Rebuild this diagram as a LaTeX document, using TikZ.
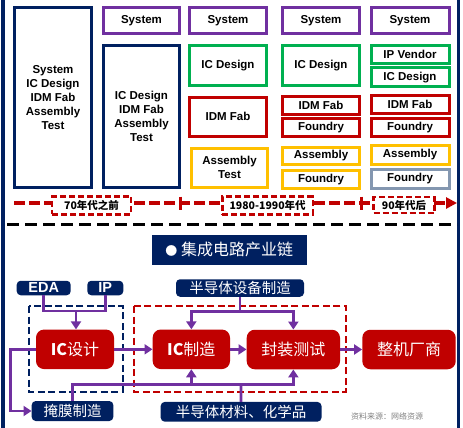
\documentclass[tikz,border=0pt]{standalone}
\usepackage{fontspec}
\setmainfont{Liberation Sans}
\newfontfamily\cjk{Noto Sans CJK SC}
\usepackage{xcolor}
\usetikzlibrary{
  positioning,
  arrows.meta
}
\definecolor{navy}{HTML}{002060}
\definecolor{chipred}{HTML}{C00000}
\definecolor{purp}{HTML}{7030A0}
\definecolor{grn}{HTML}{00B050}
\definecolor{ylw}{HTML}{FFC000}
\definecolor{gry}{HTML}{8497B0}

\begin{document}
\begin{tikzpicture}[x=1pt,y=-1pt,>={Triangle[width=10pt,length=8pt]},
  era/.style={draw, line width=3pt, fill=white, inner sep=0pt, align=center,
    font=\bfseries\fontsize{11.5}{14}\selectfont},
  eratag/.style={draw=chipred, line width=2.75pt, dash pattern=on 6pt off 3pt, fill=white,
    inner sep=0pt, font=\cjk\bfseries\fontsize{10.5}{12}\selectfont},
  tag/.style={fill=navy, text=white, rounded corners=4pt, inner sep=0pt,
    font=\cjk\fontsize{14.5}{14.5}\selectfont},
  stage/.style={fill=chipred, text=white, rounded corners=8pt, inner sep=0pt,
    minimum height=39.5, font=\cjk\fontsize{16}{16}\selectfont},
  flow/.style={purp, line width=2.75pt}]
    \useasboundingbox (0,0) rectangle (463,428);
    % frame
    \draw[navy, line width=3.5pt] (3,0) -- (3,428);
    \draw[navy, line width=3pt] (458.7,0) -- (458.7,428);
    % before the 70s
    \node[era, draw=navy, minimum width=77, minimum height=180] (allone) at (53,97.5) {System\\IC Design\\IDM Fab\\Assembly\\Test};
    % 70s
    \node[era, draw=purp, minimum width=76, minimum height=26] (sysb) at (141.5,20.5) {System};
    \node[era, draw=navy, minimum width=76, minimum height=142] (idmb) at (141.5,116.5) {IC Design\\IDM Fab\\Assembly\\Test};
    % 80s
    \node[era, draw=purp, minimum width=77, minimum height=26] (sysc) at (228,20.5) {System};
    \node[era, draw=grn, minimum width=77, minimum height=39.5] (icdc) at (228,65.5) {IC Design};
    \node[era, draw=chipred, minimum width=77, minimum height=39.5] (fabc) at (228,116.75) {IDM Fab};
    \node[era, draw=ylw, minimum width=76, minimum height=39.5] (asmc) at (229.5,167.75) {Assembly\\Test};
    % 1980-1990
    \node[era, draw=purp, minimum width=77, minimum height=26] (sysd) at (321,20.5) {System};
    \node[era, draw=grn, minimum width=77, minimum height=40] (icdd) at (321,65.5) {IC Design};
    \node[era, draw=chipred, minimum width=77, minimum height=17.5] (fabd) at (321,105.25) {IDM Fab};
    \node[era, draw=chipred, minimum width=77, minimum height=18] (fdyd) at (321,127.5) {Foundry};
    \node[era, draw=ylw, minimum width=77, minimum height=17.5] (asmd) at (321,155.75) {Assembly};
    \node[era, draw=ylw, minimum width=77, minimum height=18] (tstd) at (321,179.5) {Foundry};
    % after the 90s
    \node[era, draw=purp, minimum width=78, minimum height=26] (syse) at (410,20.5) {System};
    \node[era, draw=grn, minimum width=78, minimum height=18.5] (ipve) at (410,54.75) {IP Vendor};
    \node[era, draw=grn, minimum width=78, minimum height=18.5] (icde) at (410,77.25) {IC Design};
    \node[era, draw=chipred, minimum width=78, minimum height=18] (fabe) at (410,104.5) {IDM Fab};
    \node[era, draw=chipred, minimum width=78, minimum height=18.5] (fdye) at (410,127.25) {Foundry};
    \node[era, draw=ylw, minimum width=78, minimum height=19] (asme) at (410,155) {Assembly};
    \node[era, draw=gry, minimum width=78, minimum height=18.5] (tste) at (410,178.75) {Foundry};
    % time axis
    \coordinate (tstart) at (14,203);
    \coordinate (tend) at (457,203);
    \draw[chipred, line width=3.5pt, dash pattern=on 11pt off 4pt, ->, >={Triangle[width=11pt,length=11pt]}] (tstart) -- (tend);
    \draw[chipred, line width=3pt] (180,196.5) -- (180,209.5);
    \draw[chipred, line width=3pt] (361.7,196.5) -- (361.7,209.5);
    \node[eratag, minimum width=78.8, minimum height=18] (tsa) at (91.5,205.4) {70年代之前};
    \node[eratag, minimum width=90.5, minimum height=18] (tsb) at (267.65,205.5) {1980-1990年代};
    \node[eratag, minimum width=60.6, minimum height=15.8] (tsc) at (404,205) {90年代后};
    \draw[black, line width=3pt, dash pattern=on 11.5pt off 6.5pt] (7,224.3) -- (457,224.3);
    % industry chain
    \node[fill=navy, text=white, minimum width=154.5, minimum height=29.5, inner sep=0pt,
      font=\cjk\fontsize{16}{16}\selectfont] (chain) at (229.25,249.75) {{\fontsize{12}{12}\selectfont●} 集成电路产业链};
    \draw[navy, line width=2.25pt, dash pattern=on 7pt off 3.5pt] (29,306) rectangle (122.7,391.7);
    \draw[chipred, line width=2.25pt, dash pattern=on 7pt off 3.5pt] (134,306) rectangle (345.7,391.7);
    \node[tag, minimum width=54, minimum height=14.5, font=\bfseries\fontsize{14.5}{14.5}\selectfont] (eda) at (43.7,288) {EDA};
    \node[tag, minimum width=36, minimum height=14.5, font=\bfseries\fontsize{14.5}{14.5}\selectfont] (ip) at (105.3,288) {IP};
    \node[tag, minimum width=128, minimum height=17.5] (equip) at (240,288) {半导体设备制造};
    \node[tag, minimum width=81.6, minimum height=20] (mask) at (72.5,411) {掩膜制造};
    \node[tag, minimum width=160.8, minimum height=19.7] (mater) at (241.1,411.8) {半导体材料、化学品};
    \node[stage, minimum width=78] (icd) at (75,349.3) {{\bfseries IC}设计};
    \node[stage, minimum width=77.3] (icm) at (191.35,349.3) {{\bfseries IC}制造};
    \node[stage, minimum width=93.3] (pkg) at (293.35,349.5) {封装测试};
    \node[stage, minimum width=93.4] (oem) at (409,349.5) {整机厂商};
    \node[text=gray, font=\cjk\fontsize{8}{8}\selectfont] (src) at (387,416.5) {资料来源：网络资源};
    % flows
    \coordinate (dj) at (76,311);
    \draw[flow] (eda) |- (dj) -| (ip);
    \draw[flow,->] (dj) -- (dj |- icd.north);
    \draw[flow,->] (icd) -- (icm);
    \draw[flow,->] (icm) -- (pkg);
    \draw[flow,->] (pkg) -- (oem);
    \draw[flow,->] (icd.west) -- ++(-25,0) |- (mask.west);
    \coordinate (ej) at (240,311.5);
    \draw[flow] (equip) -- (ej);
    \draw[flow,->] (ej) -| (icm.north);
    \draw[flow,->] (ej) -| (pkg.north);
    \coordinate (mj) at (241,384.5);
    \draw[flow] (mask) |- (mj);
    \draw[flow] (mater) -- (mj);
    \draw[flow,->] (mj) -| (icm.south);
    \draw[flow,->] (mj) -| (pkg.south);
\end{tikzpicture}
\end{document}
